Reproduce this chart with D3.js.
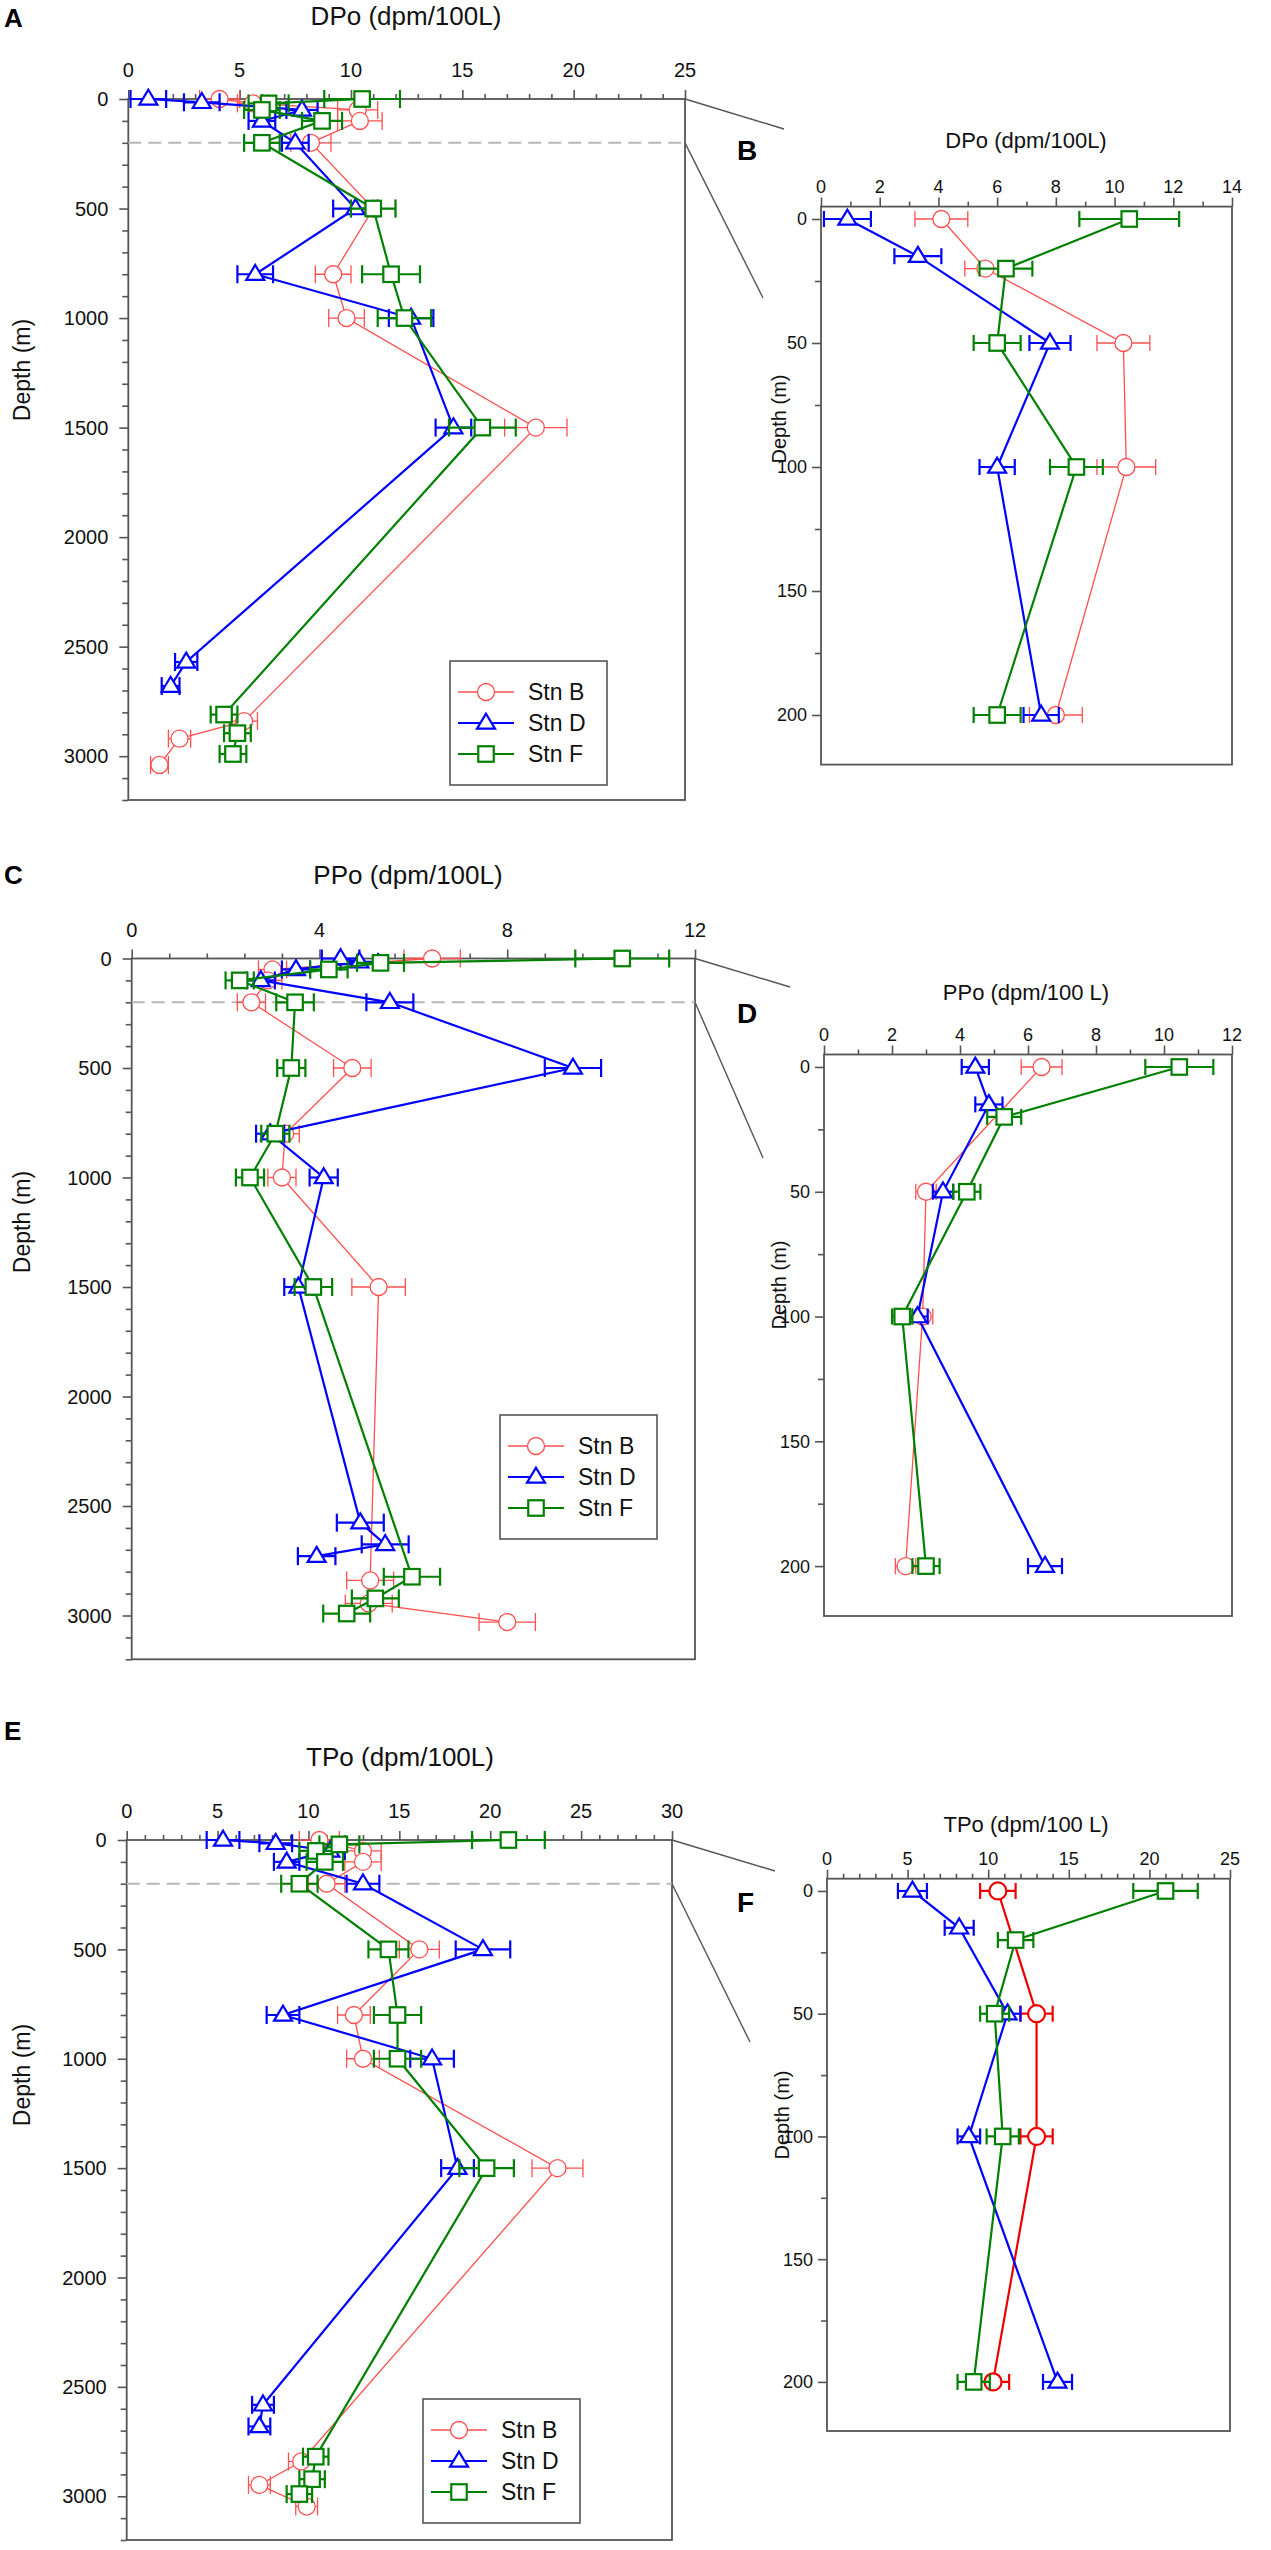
<!DOCTYPE html>
<html><head><meta charset="utf-8">
<script src="https://cdn.jsdelivr.net/npm/d3@7"></script>
<style>body{margin:0;background:#fff} svg{display:block} text{font-family:"Liberation Sans",Arial,sans-serif}</style>
</head><body><svg id="c" width="1271" height="2550"></svg>
<script>
const stations = ["Stn B","Stn D","Stn F"];
// DPo (dpm/100L)
const dpoB_depth = [0,20,50,100,200,500,800,1000,1500,2840,2920,3040];
const dpoB_val   = [4.1,5.6,10.3,10.4,8.2,11.0,9.2,9.8,18.3,5.2,2.3,1.4];
const dpoB_err   = [0.9,0.7,0.9,1.0,0.9,1.0,0.8,0.8,1.4,0.6,0.5,0.4];
const dpoD_depth = [0,15,50,100,200,500,800,1000,1500,2570,2680];
const dpoD_val   = [0.9,3.3,7.8,6.0,7.5,10.2,5.7,12.7,14.6,2.6,1.9];
const dpoD_err   = [0.8,0.8,0.7,0.6,0.6,1.0,0.8,1.0,0.8,0.5,0.4];
const dpoF_depth = [0,20,50,100,200,500,800,1000,1500,2810,2895,2990];
const dpoF_val   = [10.5,6.3,6.0,8.7,6.0,11.0,11.8,12.4,15.9,4.3,4.9,4.7];
const dpoF_err   = [1.7,0.9,0.8,0.9,0.8,1.0,1.3,1.2,1.5,0.6,0.6,0.6];
// PPo (dpm/100L)
const ppoB_depth = [0,50,100,200,500,800,1000,1500,2840,2945,3030];
const ppoB_val   = [6.4,3.0,2.9,2.55,4.7,3.27,3.2,5.26,5.08,5.05,8.0];
const ppoB_err   = [0.6,0.3,0.3,0.3,0.4,0.3,0.3,0.57,0.5,0.5,0.6];
const ppoD_depth = [0,15,50,100,200,500,800,1000,1500,2576,2675,2729];
const ppoD_val   = [4.45,4.85,3.5,2.75,5.5,9.4,2.95,4.09,3.55,4.87,5.40,3.94];
const ppoD_err   = [0.4,0.4,0.3,0.3,0.5,0.6,0.3,0.3,0.3,0.5,0.5,0.4];
const ppoF_depth = [0,20,50,100,200,500,800,1000,1500,2823,2922,2991];
const ppoF_val   = [10.45,5.3,4.2,2.3,3.48,3.4,3.06,2.52,3.87,5.97,5.19,4.58];
const ppoF_err   = [1.0,0.5,0.4,0.3,0.4,0.3,0.3,0.3,0.4,0.6,0.5,0.5];
// TPo (dpm/100L)
const tpoB_depth = [0,50,100,200,500,800,1000,1500,2841,2948,3047];
const tpoB_val   = [10.6,13.0,13.0,11.0,16.1,12.5,13.0,23.7,9.6,7.3,9.9];
const tpoB_err   = [1.1,1.0,1.0,1.0,1.1,0.9,0.9,1.4,0.7,0.6,0.6];
const tpoD_depth = [0,15,50,100,200,500,800,1000,1500,2582,2681];
const tpoD_val   = [5.3,8.2,11.2,8.8,13.0,19.6,8.6,16.8,18.2,7.5,7.3];
const tpoD_err   = [0.9,0.9,0.8,0.7,0.9,1.5,0.9,1.2,0.9,0.6,0.6];
const tpoF_depth = [0,20,50,100,200,500,800,1000,1500,2819,2922,2990];
const tpoF_val   = [21.0,11.7,10.4,10.9,9.5,14.4,14.9,14.9,19.8,10.4,10.2,9.5];
const tpoF_err   = [2.0,1.1,0.9,1.0,1.0,1.1,1.3,1.3,1.5,0.7,0.7,0.7];
// 200 m values as plotted in the upper-200 m detail panels (B, D, F), order: Stn B, Stn D, Stn F
const dpoDetail200 = [8.0,7.5,6.0];
const ppoDetail200 = [2.4,6.5,3.0];
const tpoDetail200 = [10.3,14.3,9.1];

const colors = ["#ff5050","#0000ff","#008000"];
const lineW  = [1.3,2.2,2.2];
const markers = ["circle","triangle","square"];

function series(d,v,e){return d.map((dd,i)=>({d:dd,v:v[i],e:e[i]}));}
const dpo = [series(dpoB_depth,dpoB_val,dpoB_err),series(dpoD_depth,dpoD_val,dpoD_err),series(dpoF_depth,dpoF_val,dpoF_err)];
const ppo = [series(ppoB_depth,ppoB_val,ppoB_err),series(ppoD_depth,ppoD_val,ppoD_err),series(ppoF_depth,ppoF_val,ppoF_err)];
const tpo = [series(tpoB_depth,tpoB_val,tpoB_err),series(tpoD_depth,tpoD_val,tpoD_err),series(tpoF_depth,tpoF_val,tpoF_err)];
function detail(all,v200){return all.map((s,i)=>s.filter(q=>q.d<=200).map(q=>q.d===200?Object.assign({},q,{v:v200[i]}):q));}

const svg = d3.select("#c");
const AX = "#555";

function marker(g,type,cx,cy,col,sw){
  if(type==="circle"){
    g.append("circle").attr("cx",cx).attr("cy",cy).attr("r",8.5).attr("fill","#fff").attr("stroke",col).attr("stroke-width",sw);
  } else if(type==="triangle"){
    const w=18,h=15;
    g.append("path").attr("d",`M${cx},${cy-h*0.62}L${cx+w/2},${cy+h*0.38}L${cx-w/2},${cy+h*0.38}Z`).attr("fill","#fff").attr("stroke",col).attr("stroke-width",sw);
  } else {
    const s=15.5;
    g.append("rect").attr("x",cx-s/2).attr("y",cy-s/2).attr("width",s).attr("height",s).attr("fill","#fff").attr("stroke",col).attr("stroke-width",sw);
  }
}

function drawPanel(p){
  const g = svg.append("g");
  const x = d3.scaleLinear().domain([0,p.xmax]).range([p.left,p.right]);
  const y = d3.scaleLinear().domain(p.ydom).range([p.top,p.bottom]);
  const eps=1e-9;
  const xMaj = d3.range(0,p.xmax+eps,p.xMajor);
  const xMin = d3.range(0,p.xmax+eps,p.xMinor).filter(v=>xMaj.every(m=>Math.abs(m-v)>1e-6));
  const yMaj = d3.range(0,p.ydom[1]+eps,p.yMajor);
  const yMin = d3.range(0,p.ydom[1]+eps,p.yMinor).filter(v=>yMaj.every(m=>Math.abs(m-v)>1e-6));
  const ax = (sel)=>{sel.select(".domain").remove(); sel.selectAll("line").attr("stroke",AX).attr("stroke-width",1.6);};
  g.append("g").attr("transform",`translate(0,${p.top})`).call(d3.axisTop(x).tickValues(xMin).tickSize(5).tickFormat("")).call(ax);
  g.append("g").attr("transform",`translate(0,${p.top})`).call(d3.axisTop(x).tickValues(xMaj).tickSize(9).tickFormat("")).call(ax);
  g.append("g").attr("transform",`translate(${p.left},0)`).call(d3.axisLeft(y).tickValues(yMin).tickSize(6).tickFormat("")).call(ax);
  g.append("g").attr("transform",`translate(${p.left},0)`).call(d3.axisLeft(y).tickValues(yMaj).tickSize(9).tickFormat("")).call(ax);
  g.selectAll(null).data(xMaj).enter().append("text").attr("x",d=>x(d)).attr("y",p.top-p.xLabOff)
    .attr("text-anchor","middle").attr("font-size",p.fs).attr("fill","#111").text(d=>d);
  g.selectAll(null).data(yMaj).enter().append("text").attr("x",p.left-p.yLabOff).attr("y",d=>y(d)+p.fs*0.36)
    .attr("text-anchor","end").attr("font-size",p.fs).attr("fill","#111").text(d=>d);
  g.append("rect").attr("x",p.left).attr("y",p.top).attr("width",p.right-p.left).attr("height",p.bottom-p.top)
    .attr("fill","none").attr("stroke",AX).attr("stroke-width",1.8);
  g.append("text").attr("x",p.titleX).attr("y",p.titleY).attr("text-anchor","middle").attr("font-size",p.tfs).attr("fill","#111").text(p.title);
  g.append("text").attr("transform",`translate(${p.ylabX},${p.ylabY}) rotate(-90)`).attr("text-anchor","middle").attr("font-size",p.yfs).attr("fill","#111").text("Depth (m)");
  g.append("text").attr("x",p.letterX).attr("y",p.letterY).attr("font-size",p.lfs).attr("font-weight","bold").attr("fill","#000").text(p.letter);
  if(p.dash){
    g.append("line").attr("x1",p.left).attr("x2",p.right).attr("y1",y(200)).attr("y2",y(200))
      .attr("stroke","#b8b8b8").attr("stroke-width",2).attr("stroke-dasharray","13,7");
    g.append("line").attr("x1",p.right).attr("y1",y(0)).attr("x2",p.c1[0]).attr("y2",p.c1[1]).attr("stroke",AX).attr("stroke-width",1.4);
    g.append("line").attr("x1",p.right).attr("y1",y(200)).attr("x2",p.c2[0]).attr("y2",p.c2[1]).attr("stroke",AX).attr("stroke-width",1.4);
  }
  p.data.forEach((s,i)=>{
    const pts = s.filter(q=>q.d<=p.ydom[1]);
    const col = (p.colors||colors)[i], lw=(p.lineW||lineW)[i];
    const sg = g.append("g");
    sg.append("path").attr("d",d3.line().x(q=>x(q.v)).y(q=>y(q.d))(pts)).attr("fill","none").attr("stroke",col).attr("stroke-width",lw);
    pts.forEach(q=>{
      const yy=y(q.d), x1=x(q.v-q.e), x2=x(q.v+q.e), c=p.cap;
      sg.append("line").attr("x1",x1).attr("x2",x2).attr("y1",yy).attr("y2",yy).attr("stroke",col).attr("stroke-width",lw);
      sg.append("line").attr("x1",x1).attr("x2",x1).attr("y1",yy-c/2).attr("y2",yy+c/2).attr("stroke",col).attr("stroke-width",lw);
      sg.append("line").attr("x1",x2).attr("x2",x2).attr("y1",yy-c/2).attr("y2",yy+c/2).attr("stroke",col).attr("stroke-width",lw);
    });
    pts.forEach(q=>marker(sg,markers[i],x(q.v),y(q.d),col,lw));
  });
  if(p.legend){
    const L=p.legend;
    g.append("rect").attr("x",L.x).attr("y",L.y).attr("width",L.w).attr("height",L.h).attr("fill","#fff").attr("stroke",AX).attr("stroke-width",1.6);
    stations.forEach((nm,i)=>{
      const cy=L.y+31+i*31;
      g.append("line").attr("x1",L.x+8).attr("x2",L.x+64).attr("y1",cy).attr("y2",cy).attr("stroke",colors[i]).attr("stroke-width",lineW[i]);
      marker(g,markers[i],L.x+36,cy,colors[i],lineW[i]);
      g.append("text").attr("x",L.x+78).attr("y",cy+8).attr("font-size",23).attr("fill","#111").text(nm);
    });
  }
}

const big = {fs:20,tfs:26,yfs:23,lfs:26,xLabOff:22,yLabOff:20,cap:18,dash:true,ydom:[0,3200],yMajor:500,yMinor:100,letterX:4};
const small = {fs:18,tfs:22,yfs:20,lfs:28,xLabOff:14,yLabOff:14,cap:16,dash:false,ydom:[-5,220],yMajor:50,yMinor:25};

drawPanel(Object.assign({},big,{left:128.3,right:685,top:99,bottom:800,xmax:25,xMajor:5,xMinor:1,
  title:"DPo (dpm/100L)",titleX:406,titleY:25,ylabX:30,ylabY:370,letter:"A",letterY:27,data:dpo,
  c1:[784,129],c2:[763,298],legend:{x:450,y:661,w:157,h:124}}));
drawPanel(Object.assign({},small,{left:821,right:1232,top:206.6,bottom:764.6,xmax:14,xMajor:2,xMinor:1,
  title:"DPo (dpm/100L)",titleX:1026,titleY:148,ylabX:786,ylabY:419,letter:"B",letterX:737,letterY:160,data:detail(dpo,dpoDetail200)}));
drawPanel(Object.assign({},big,{left:131.7,right:695,top:958.5,bottom:1659.3,xmax:12,xMajor:4,xMinor:0.8,
  title:"PPo (dpm/100L)",titleX:408,titleY:884,ylabX:30,ylabY:1222,letter:"C",letterY:884,data:ppo,
  c1:[790,987],c2:[763,1158],legend:{x:500,y:1415,w:157,h:124}}));
drawPanel(Object.assign({},small,{left:824,right:1232,top:1054.5,bottom:1616,xmax:12,xMajor:2,xMinor:1,
  title:"PPo (dpm/100 L)",titleX:1026,titleY:1000,ylabX:786,ylabY:1285,letter:"D",letterX:737,letterY:1023,data:detail(ppo,ppoDetail200)}));
drawPanel(Object.assign({},big,{left:126.7,right:672,top:1840,bottom:2540,xmax:30,xMajor:5,xMinor:1,
  title:"TPo (dpm/100L)",titleX:400,titleY:1766,ylabX:30,ylabY:2075,letter:"E",letterY:1740,data:tpo,
  c1:[775,1871],c2:[750,2042],legend:{x:423,y:2399,w:157,h:124}}));
drawPanel(Object.assign({},small,{left:827,right:1230,top:1878.7,bottom:2431,xmax:25,xMajor:5,xMinor:1,
  title:"TPo (dpm/100 L)",titleX:1026,titleY:1832,ylabX:789,ylabY:2115,letter:"F",letterX:737,letterY:1912,data:detail(tpo,tpoDetail200),
  colors:["#ee0000","#0000ff","#008000"],lineW:[2.2,2.2,2.2]}));
</script></body></html>
